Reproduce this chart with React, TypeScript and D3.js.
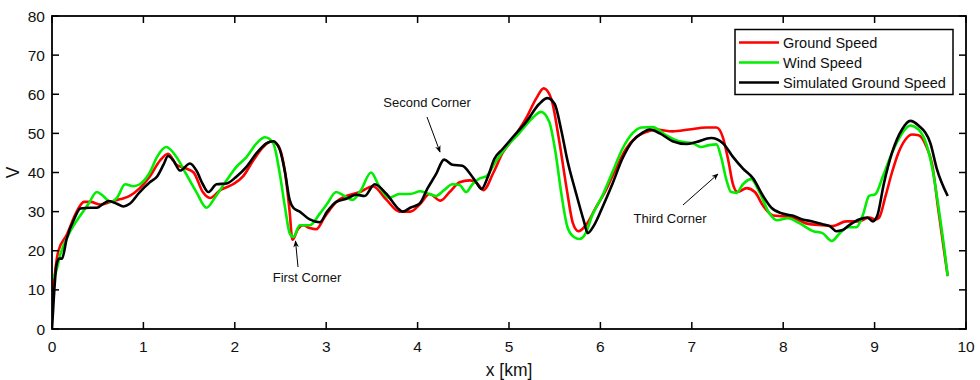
import React from "react";
import * as d3 from "d3";

const groundX = [0,0.036,0.07,0.16,0.27,0.35,0.42,0.53,0.64,0.75,0.85,0.96,1.07,1.18,1.27,1.36,1.47,1.55,1.65,1.73,1.84,1.98,2.09,2.2,2.31,2.4,2.47,2.55,2.6,2.63,2.69,2.75,2.82,2.89,2.98,3.04,3.11,3.22,3.37,3.51,3.66,3.8,3.92,4.03,4.13,4.25,4.35,4.46,4.57,4.64,4.72,4.83,4.93,5.04,5.19,5.3,5.38,5.46,5.55,5.63,5.7,5.76,5.84,5.95,6.06,6.17,6.28,6.39,6.52,6.61,6.79,6.97,7.16,7.27,7.34,7.4,7.45,7.5,7.6,7.69,7.78,7.89,7.99,8.1,8.25,8.43,8.54,8.69,8.83,8.94,9.01,9.05,9.12,9.19,9.26,9.34,9.41,9.48,9.56,9.63,9.7,9.76,9.8];
const groundV = [6,15,20,24,30,32.5,32.5,31.8,32.5,33.2,34,36,39,43,44.8,42,41,40,35,33.5,35.5,37,39,43,46.5,48,47,40,30,22.8,25.5,26.5,25.8,25.5,28.5,30.5,32.5,34,35,36.5,33,30,30,32,34.5,32.8,35,37.5,38,37.5,35.5,40,45,48.5,54,59,61.5,59,48,36,27,25,26.5,31,35.5,41,46,49,50.5,51,50.5,51,51.5,51.5,49,43,37,35,36,35,31.5,29,28.8,28.5,27,26.5,26.3,27.5,27.5,28.5,28,28.5,34,40,45,48.5,49.7,49.5,47,42,30,20,13.5];

const windX = [0,0.036,0.09,0.2,0.31,0.4,0.49,0.56,0.64,0.71,0.8,0.89,0.96,1.07,1.15,1.25,1.36,1.47,1.58,1.69,1.78,1.91,2.02,2.13,2.24,2.33,2.42,2.49,2.55,2.6,2.64,2.71,2.82,2.93,3.01,3.11,3.2,3.29,3.38,3.49,3.58,3.69,3.8,3.92,4.03,4.13,4.2,4.29,4.38,4.46,4.53,4.6,4.68,4.75,4.86,4.97,5.11,5.26,5.35,5.44,5.51,5.57,5.64,5.71,5.77,5.84,5.91,6.02,6.13,6.24,6.35,6.45,6.57,6.72,6.86,7.01,7.1,7.19,7.27,7.32,7.38,7.43,7.49,7.56,7.65,7.74,7.85,7.93,8.05,8.18,8.33,8.43,8.53,8.62,8.71,8.8,8.87,8.94,9.01,9.09,9.19,9.3,9.39,9.48,9.57,9.64,9.7,9.76,9.8];
const windV = [13,14,19,25,29,32,35,34,32.5,33.5,37,36.5,37,40,44,46.5,44,39.5,35,31,33.5,38,41.5,44,47.5,49,47.5,40,31,24.5,23.5,26.5,26.5,29.5,32,35,34,33,35.5,40,36.5,33.5,34.5,34.5,35.2,34.5,34,35.5,37,36.8,35,37,38.5,39,43,46.5,50,54,55.5,53,45,35,26,23.5,23,24.5,29,34,40,46,50,51.5,51.6,49.5,48,47.5,46.5,47,47.2,44,38,35,34.8,37,38.3,35,29.5,27.8,28.3,27,25,24.5,22.5,24.5,26,26,29,34,34.5,39,45,50,52,51,47,40,31,21,13.5];

const simX = [0,0.02,0.05,0.08,0.11,0.16,0.25,0.31,0.42,0.49,0.56,0.62,0.71,0.78,0.85,0.96,1.07,1.15,1.22,1.27,1.33,1.4,1.51,1.58,1.65,1.71,1.8,1.91,2.02,2.13,2.24,2.35,2.42,2.49,2.55,2.6,2.64,2.71,2.82,2.93,3.01,3.11,3.22,3.33,3.42,3.53,3.66,3.8,3.84,3.92,4.02,4.11,4.2,4.29,4.38,4.49,4.58,4.64,4.7,4.77,4.84,4.93,5.04,5.19,5.33,5.42,5.5,5.57,5.64,5.73,5.82,5.86,5.93,6.02,6.13,6.24,6.35,6.45,6.54,6.65,6.79,6.94,7.05,7.21,7.34,7.45,7.56,7.67,7.78,7.87,7.99,8.1,8.21,8.32,8.43,8.51,8.58,8.65,8.72,8.83,8.92,8.98,9.03,9.1,9.19,9.3,9.39,9.48,9.61,9.68,9.8];
const simV = [0,8,16.5,18,18,23,28.5,30.8,31,31,32,32.7,32,31.3,32,35,37.5,39,42,44.2,43,40.5,42.3,40.5,37,35,37,37.2,39,41.5,45,47.5,48,46,40,33,31,30,28,27.3,30,32.5,33.3,34.3,34,37,34.5,30.5,30,31,32,36,39.5,43.3,42,41.7,39.5,37.5,35.8,39,43.5,46,49,53,57.5,59,57.5,51,43,35,27.5,24.5,26.5,31,37,43.5,48,50,51,50,48,47.3,47.8,48.8,47.5,44,41,38.5,34,31,29.5,29,28,27.5,26.8,26.3,25,25.3,26.5,28,28.5,27.5,29,37,45,51,53.2,52,47.5,41,34];

const xTicks = [0,1,2,3,4,5,6,7,8,9,10];
const yTicks = [0,10,20,30,40,50,60,70,80];
const seriesNames = ["Ground Speed", "Wind Speed", "Simulated Ground Speed"];
const seriesColors = ["#ff0000", "#00ee00", "#000000"];

const W = 980, H = 380;
const L = 52, R = 966, T = 16, B = 329;

export default function App() {
  const x = d3.scaleLinear().domain([0, 10]).range([L, R]);
  const y = d3.scaleLinear().domain([0, 80]).range([B, T]);
  const line = d3.line<[number, number]>().x(d => x(d[0])).y(d => y(d[1])).curve(d3.curveMonotoneX);
  const series: [number, number][][] = [
    groundX.map((v, i) => [v, groundV[i]]),
    windX.map((v, i) => [v, windV[i]]),
    simX.map((v, i) => [v, simV[i]]),
  ];
  const font = "Arial, 'Liberation Sans', sans-serif";
  const tl = 7;
  return (
    <svg width={W} height={H} style={{ position: "absolute", left: 0, top: 0, background: "#fff" }} fontFamily={font}>
      <defs>
        <marker id="ah" viewBox="0 0 10 10" refX="9" refY="5" markerWidth="7" markerHeight="7" orient="auto-start-reverse" markerUnits="userSpaceOnUse">
          <path d="M0,1 L10,5 L0,9 L3,5 z" fill="#000" />
        </marker>
        <clipPath id="clip"><rect x={L} y={T} width={R - L} height={B - T} /></clipPath>
      </defs>
      <g clipPath="url(#clip)">
        {series.map((s, i) => (
          <path key={i} d={line(s) || ""} fill="none" stroke={seriesColors[i]} strokeWidth={2.6} strokeLinejoin="round" />
        ))}
      </g>
      {/* ticks */}
      {xTicks.map(t => (
        <g key={"x" + t}>
          <line x1={x(t)} x2={x(t)} y1={B} y2={B - tl} stroke="#000" strokeWidth={1.5} />
          <line x1={x(t)} x2={x(t)} y1={T} y2={T + tl} stroke="#000" strokeWidth={1.5} />
          <text x={x(t)} y={352} fontSize={15.5} textAnchor="middle" fill="#111">{t}</text>
        </g>
      ))}
      {yTicks.map(t => (
        <g key={"y" + t}>
          <line x1={L} x2={L + tl} y1={y(t)} y2={y(t)} stroke="#000" strokeWidth={1.5} />
          <line x1={R} x2={R - tl} y1={y(t)} y2={y(t)} stroke="#000" strokeWidth={1.5} />
          <text x={45} y={y(t) + 5.5} fontSize={15.5} textAnchor="end" fill="#111">{t}</text>
        </g>
      ))}
      <rect x={L} y={T} width={R - L} height={B - T} fill="none" stroke="#000" strokeWidth={1.8} />
      <text x={509} y={376} fontSize={17.5} textAnchor="middle" fill="#111">x [km]</text>
      <text transform={`translate(19,${(T + B) / 2}) rotate(-90)`} fontSize={17.5} textAnchor="middle" fill="#111">V</text>
      {/* legend */}
      <rect x={735} y={29.5} width={218} height={65} fill="#fff" stroke="#000" strokeWidth={1.5} />
      {seriesNames.map((n, i) => (
        <g key={n}>
          <line x1={739} x2={779} y1={42.5 + i * 20} y2={42.5 + i * 20} stroke={seriesColors[i]} strokeWidth={2.6} />
          <text x={783} y={47.5 + i * 20} fontSize={14.5} fill="#111">{n}</text>
        </g>
      ))}
      {/* annotations */}
      <text x={307} y={282} fontSize={13} textAnchor="middle" fill="#111">First Corner</text>
      <line x1={298} y1={267} x2={295.5} y2={241} stroke="#000" strokeWidth={1} markerEnd="url(#ah)" />
      <text x={427} y={107} fontSize={13} textAnchor="middle" fill="#111">Second Corner</text>
      <line x1={427} y1={117} x2={440} y2={152} stroke="#000" strokeWidth={1} markerEnd="url(#ah)" />
      <text x={670} y={223} fontSize={13} textAnchor="middle" fill="#111">Third Corner</text>
      <line x1={683} y1={205} x2={718} y2={174} stroke="#000" strokeWidth={1} markerEnd="url(#ah)" />
    </svg>
  );
}
